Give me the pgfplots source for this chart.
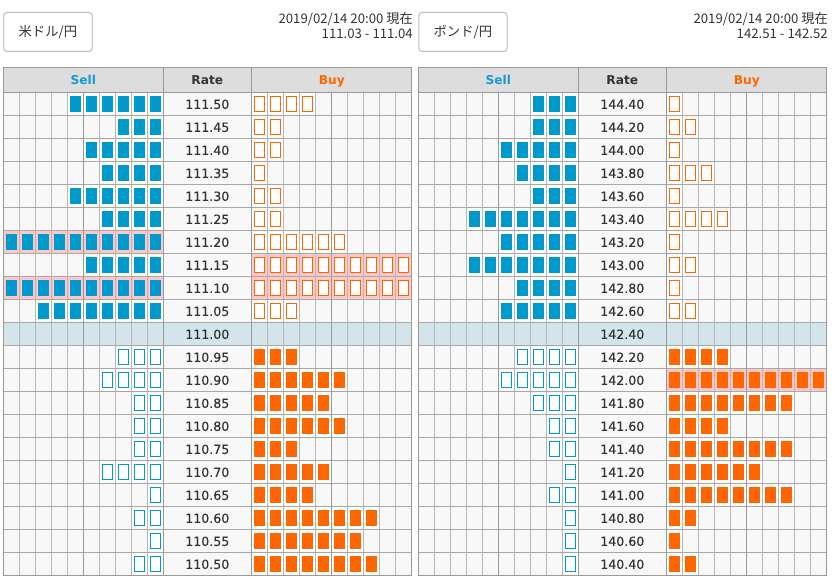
\documentclass[border=0pt]{standalone}
\usepackage{fontspec}
\setmainfont{DejaVu Sans}
\newfontfamily\jpfont{Noto Sans CJK JP}
\newfontfamily\ratefont[FakeBold=0.35]{DejaVu Sans}
\usepackage{pgfplots}
\usepackage{pgfplotstable}
\pgfplotsset{compat=1.18}

\definecolor{sellblue}{HTML}{0099CC}
\definecolor{buyorange}{HTML}{FF6600}
\definecolor{hlpink}{HTML}{FFC8C8}
\definecolor{cellbg}{HTML}{F8F8F8}
\definecolor{headbg}{HTML}{DDDDDD}
\definecolor{currow}{HTML}{D3E4EA}
\definecolor{gridc}{HTML}{B8B8B8}
\definecolor{gridr}{HTML}{A8A8A8}
\definecolor{gridd}{HTML}{999999}
\definecolor{txt}{HTML}{333333}
\definecolor{selltxt}{HTML}{1A9AD2}
\definecolor{btnborder}{HTML}{BBBBBB}

% USD/JPY
\pgfplotstableread{
row rate sell buy
0 111.50 6 4
1 111.45 3 2
2 111.40 5 2
3 111.35 4 1
4 111.30 6 2
5 111.25 4 2
6 111.20 10 6
7 111.15 5 10
8 111.10 10 10
9 111.05 8 3
}\usdU
\pgfplotstableread{
row rate sell buy
10 111.00 0 0
}\usdC
\pgfplotstableread{
row rate sell buy
11 110.95 3 3
12 110.90 4 6
13 110.85 2 5
14 110.80 2 6
15 110.75 2 3
16 110.70 4 5
17 110.65 1 4
18 110.60 2 8
19 110.55 1 7
20 110.50 2 8
}\usdL
% GBP/JPY
\pgfplotstableread{
row rate sell buy
0 144.40 3 1
1 144.20 3 2
2 144.00 5 1
3 143.80 4 3
4 143.60 3 1
5 143.40 7 4
6 143.20 5 1
7 143.00 7 2
8 142.80 4 1
9 142.60 5 2
}\gbpU
\pgfplotstableread{
row rate sell buy
10 142.40 0 0
}\gbpC
\pgfplotstableread{
row rate sell buy
11 142.20 4 4
12 142.00 5 10
13 141.80 3 8
14 141.60 2 4
15 141.40 2 8
16 141.20 1 6
17 141.00 2 8
18 140.80 1 2
19 140.60 1 1
20 140.40 1 2
}\gbpL

% box marks: name, background colour, bg half width, bg half height, box colour, filled?
\newcommand{\declbox}[6]{%
  \pgfdeclareplotmark{#1}{%
    \pgfsetfillcolor{#2}%
    \pgfpathrectangle{\pgfpoint{-#3pt}{-#4pt}}{\pgfpoint{2*#3pt}{2*#4pt}}\pgfusepath{fill}%
    \ifnum#6=1
      \pgfsetfillcolor{#5}%
      \pgfpathrectangle{\pgfpoint{-5.5pt}{-7.8pt}}{\pgfpoint{11pt}{15.6pt}}\pgfusepath{fill}%
    \else
      \pgfsetfillcolor{white}\pgfsetstrokecolor{#5}\pgfsetlinewidth{1.2pt}%
      \pgfpathrectangle{\pgfpoint{-4.9pt}{-7.2pt}}{\pgfpoint{9.8pt}{14.4pt}}\pgfusepath{fill,stroke}%
    \fi}}
\declbox{sF}{white}{7.5}{10}{sellblue}{1}
\declbox{sH}{white}{7.5}{10}{sellblue}{0}
\declbox{bF}{white}{7.5}{10}{buyorange}{1}
\declbox{bH}{white}{7.5}{10}{buyorange}{0}
\declbox{sFp}{hlpink}{7.5}{11}{sellblue}{1}
\declbox{sHp}{hlpink}{7.5}{11}{sellblue}{0}
\declbox{bFp}{hlpink}{7.5}{11}{buyorange}{1}
\declbox{bHp}{hlpink}{7.5}{11}{buyorange}{0}

% #1 table, #2 column, #3 x of k=0, #4 step, #5 normal mark, #6 highlighted mark
\newcommand{\boxes}[6]{%
  \pgfplotsinvokeforeach{1,...,9}{%
    \addplot[only marks, mark=#5] table[x expr={#3+(#4)*##1}, y expr={104+23*\thisrow{row}},
      restrict expr to domain={\thisrow{#2}}{##1:9.5}] {#1};
  }%
  \pgfplotsinvokeforeach{1,...,10}{%
    \addplot[only marks, mark=#6] table[x expr={#3+(#4)*##1}, y expr={104+23*\thisrow{row}},
      restrict expr to domain={\thisrow{#2}}{9.5:10.5}] {#1};
  }%
}
\newcommand{\rates}[2]{%
  \addplot[draw=none, mark=none, nodes near coords, point meta=explicit symbolic,
    every node near coord/.append style={anchor=center, inner sep=0pt, text=txt,
      font=\ratefont\fontsize{12.6}{14}\selectfont}]
    table[x expr={#2}, y expr={104.3+23*\thisrow{row}}, meta=rate] {#1};
}

\newcommand{\tablegrid}[1]{%
  \begin{scope}[xshift=#1pt]
    \fill[headbg] (3.3,67.7) rectangle (411.8,92.5);
    \fill[cellbg] (3.3,92.5) rectangle (411.8,575.5);
    \fill[currow] (3.3,322.5) rectangle (411.8,345.5);
    \foreach \i in {1,2,3,4,6,7,8,9} {
      \draw[gridc, line width=1pt] ({3.3+16*\i},92.5) -- ({3.3+16*\i},575.5);
      \draw[gridc, line width=1pt] ({251.3+16*\i},92.5) -- ({251.3+16*\i},575.5);
    }
    \foreach \j in {1,...,20} \draw[gridr, line width=1pt] (3.3,{92.5+23*\j}) -- (411.8,{92.5+23*\j});
    \draw[gridd, line width=1pt] (83.3,92.5) -- (83.3,575.5) (331.3,92.5) -- (331.3,575.5);
    \draw[gridd, line width=1pt] (3.3,92.5) -- (411.8,92.5);
    \draw[gridd, line width=1pt] (163.3,67.7) -- (163.3,575.5) (251.3,67.7) -- (251.3,575.5);
    \draw[gridd, line width=1pt] (3.3,67.7) rectangle (411.8,575.5);
    \node[anchor=base, inner sep=0pt, font=\bfseries\fontsize{12.2}{14}\selectfont, text=selltxt] at (83.3,84.3) {Sell};
    \node[anchor=base, inner sep=0pt, font=\bfseries\fontsize{12.2}{14}\selectfont, text=txt] at (207.3,84.3) {Rate};
    \node[anchor=base, inner sep=0pt, font=\bfseries\fontsize{12.2}{14}\selectfont, text=buyorange] at (331.8,84.3) {Buy};
  \end{scope}}

\begin{document}
\begin{tikzpicture}
\path (0,0) rectangle (833pt,580pt);
\begin{scope}[x=1pt, y=-1pt, yshift=580pt]
  \tablegrid{0}
  \tablegrid{415}
  % buttons
  \draw[btnborder, fill=white, rounded corners=3pt, line width=1pt] (3.8,12.5) rectangle (92,51.5);
  \node[text=txt, font=\jpfont\fontsize{13.3}{15}\selectfont] at (47.9,31.8) {米ドル/円};
  \draw[btnborder, fill=white, rounded corners=3pt, line width=1pt] (418.8,12.5) rectangle (507,51.5);
  \node[text=txt, font=\jpfont\fontsize{13.3}{15}\selectfont] at (462.9,31.8) {ポンド/円};
  % dates
  \node[anchor=base east, inner sep=0pt, text=txt, font=\jpfont\fontsize{13.2}{15}\selectfont] at (413,23.6) {2019/02/14 20:00 現在};
  \node[anchor=base east, inner sep=0pt, text=txt, font=\jpfont\fontsize{13.2}{15}\selectfont] at (413,38.8) {111.03 - 111.04};
  \node[anchor=base east, inner sep=0pt, text=txt, font=\jpfont\fontsize{13.2}{15}\selectfont] at (828,23.6) {2019/02/14 20:00 現在};
  \node[anchor=base east, inner sep=0pt, text=txt, font=\jpfont\fontsize{13.2}{15}\selectfont] at (828,38.8) {142.51 - 142.52};
\end{scope}
\begin{axis}[at={(0,0)}, anchor=south west, scale only axis, width=833pt, height=580pt,
  xmin=0, xmax=833, ymin=0, ymax=580, y dir=reverse, hide axis, clip=false]
  % USD/JPY
  \boxes{\usdU}{sell}{171.3}{-16}{sF}{sFp}
  \boxes{\usdU}{buy}{243.3}{16}{bH}{bHp}
  \boxes{\usdL}{sell}{171.3}{-16}{sH}{sHp}
  \boxes{\usdL}{buy}{243.3}{16}{bF}{bFp}
  \rates{\usdU}{207.3}
  \rates{\usdC}{207.3}
  \rates{\usdL}{207.3}
  % GBP/JPY
  \boxes{\gbpU}{sell}{586.3}{-16}{sF}{sFp}
  \boxes{\gbpU}{buy}{658.3}{16}{bH}{bHp}
  \boxes{\gbpL}{sell}{586.3}{-16}{sH}{sHp}
  \boxes{\gbpL}{buy}{658.3}{16}{bF}{bFp}
  \rates{\gbpU}{622.3}
  \rates{\gbpC}{622.3}
  \rates{\gbpL}{622.3}
\end{axis}
\end{tikzpicture}
\end{document}
